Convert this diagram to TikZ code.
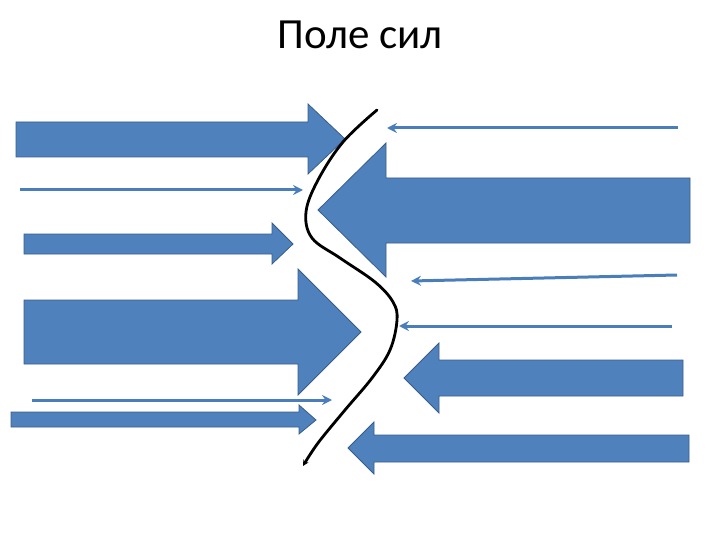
\documentclass[tikz,border=0pt]{standalone}
\usepackage{fontspec}
\setmainfont{Carlito}
\usetikzlibrary{arrows.meta}
\definecolor{fillblue}{HTML}{4F81BD}
\definecolor{edgeblue}{HTML}{385D8A}
\definecolor{lineblue}{HTML}{4A7EBB}
\tikzset{
  blockarrow/.style={fill=fillblue,draw=edgeblue,line width=0.8pt,line join=miter},
  thinarrow/.style={draw=lineblue,line width=3pt,-{Stealth[length=10pt,width=10pt,inset=3.5pt]}},
  curveline/.style={draw=black,line width=2.8pt,line cap=round,-{Stealth[length=6pt,width=6pt]}}
}
\begin{document}
\begin{tikzpicture}[x=1pt,y=-1pt]
\useasboundingbox (0,0) rectangle (720,540);
\node[anchor=base,inner sep=0pt] (title) at (360,49) {\fontsize{43}{48}\selectfont Поле сил};
% left block arrows (pointing right)
\draw[blockarrow] (16,122) -- (308,122) -- (308,104) -- (345,139) -- (308,174) -- (308,157) -- (16,157) -- cycle;
\draw[blockarrow] (24,234) -- (272,234) -- (272,223) -- (293,244) -- (272,264) -- (272,254) -- (24,254) -- cycle;
\draw[blockarrow] (24,300) -- (298,300) -- (298,269) -- (361,332) -- (298,395) -- (298,364) -- (24,364) -- cycle;
\draw[blockarrow] (11,412) -- (299,412) -- (299,405) -- (316,420) -- (299,434) -- (299,427) -- (11,427) -- cycle;
% right block arrows (pointing left)
\draw[blockarrow] (690,178) -- (386,178) -- (386,143) -- (318,210) -- (386,277) -- (386,243) -- (690,243) -- cycle;
\draw[blockarrow] (683,360) -- (439,360) -- (439,343) -- (404,378) -- (439,413) -- (439,396) -- (683,396) -- cycle;
\draw[blockarrow] (689,435) -- (374,435) -- (374,422) -- (348,448) -- (374,474) -- (374,462) -- (689,462) -- cycle;
% thin arrows
\coordinate (t1s) at (20,190);  \coordinate (t1e) at (303,190);
\coordinate (t2s) at (32,400);  \coordinate (t2e) at (332,400);
\coordinate (t3s) at (678,128); \coordinate (t3e) at (387,128);
\coordinate (t4s) at (677,275); \coordinate (t4e) at (411,281);
\coordinate (t5s) at (672,326); \coordinate (t5e) at (399,326);
\draw[thinarrow] (t1s) -- (t1e);
\draw[thinarrow] (t2s) -- (t2e);
\draw[thinarrow] (t3s) -- (t3e);
\draw[thinarrow] (t4s) -- (t4e);
\draw[thinarrow] (t5s) -- (t5e);
% S-curve
\draw[curveline] plot[smooth,tension=0.6] coordinates {(377,110) (343,142) (318,180) (306,212) (312,238) (340,258) (375,282) (393,302) (397,320) (390,350) (372,378) (345,410) (318,443) (303,466)};
\end{tikzpicture}
\end{document}
